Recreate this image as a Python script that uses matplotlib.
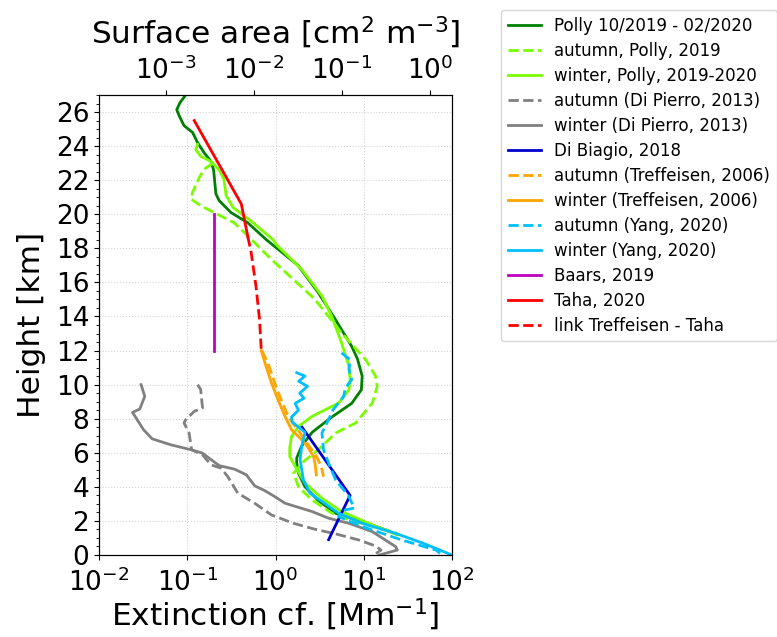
import numpy as np
import matplotlib
matplotlib.use('Agg')
import matplotlib.pyplot as plt
from matplotlib.ticker import MultipleLocator, NullLocator

# Polly 10/2019 - 02/2020 (all)
polly_h = [27.0, 26.56, 26.14, 25.78, 25.2, 24.8, 24.2, 23.6, 23.1, 22.6, 21.2, 20.8, 20.1,
           19.5, 18.5, 17.0, 15.4, 13.8, 12.25, 11.5, 10.5, 9.7, 8.9, 8.1, 7.2, 6.4, 5.7,
           5.4, 4.8, 4.0, 3.2, 2.45, 1.96, 1.4]
polly_x = [0.096, 0.083, 0.076, 0.081, 0.092, 0.115, 0.131, 0.156, 0.186, 0.199, 0.211, 0.23, 0.313,
           0.485, 0.79, 1.8, 3.05, 4.8, 7.3, 8.5, 9.6, 9.4, 7.3, 4.35, 2.6, 1.98, 1.74,
           1.74, 1.82, 2.16, 3.05, 4.8, 9.6, 19.5]

# autumn, Polly, 2019
polly_aut_h = [23.0, 22.65, 22.16, 21.3, 20.9, 20.5, 20.0, 19.5, 18.9, 17.35, 16.08, 15.0, 13.04,
               11.47, 10.5, 9.9, 8.92, 7.75, 7.16, 6.18, 5.5, 4.8, 4.0, 3.24, 2.45, 2.06, 1.27]
polly_aut_x = [0.195, 0.156, 0.137, 0.115, 0.11, 0.142, 0.22, 0.34, 0.45, 0.9, 1.67, 2.8, 5.6,
               10.5, 13.6, 14.2, 12.5, 8.1, 4.8, 3.05, 2.1, 1.6, 1.82, 2.58, 4.36, 6.8, 24.0]

# winter, Polly, 2019-2020
polly_win_h = [24.1, 23.8, 23.4, 23.1, 22.6, 22.06, 21.1, 20.4, 19.6, 18.5, 18.2, 16.76, 15.2,
               14.0, 12.45, 11.08, 10.3, 9.7, 8.92, 8.14, 7.55, 6.96, 6.3, 5.78, 5.2, 4.22,
               3.33, 2.55, 1.86, 1.18]
polly_win_x = [0.131, 0.125, 0.142, 0.186, 0.23, 0.26, 0.276, 0.33, 0.53, 0.94, 1.03, 1.98, 3.36,
               4.35, 5.6, 6.8, 7.0, 6.8, 5.2, 2.6, 1.82, 1.52, 1.45, 1.45, 1.67, 2.16,
               3.36, 5.6, 11.4, 24.0]

# Di Pierro, 2013
dip_aut_h = [10.0, 9.71, 8.63, 8.43, 7.94, 7.75, 7.16, 6.18, 5.88, 5.29, 5.10, 4.61, 3.63,
             3.04, 2.35, 1.86, 1.51, 1.24, 0.88, 0.53, 0.29, 0.0]
dip_aut_x = [0.131, 0.142, 0.149, 0.12, 0.096, 0.092, 0.105, 0.112, 0.149, 0.186, 0.241, 0.287, 0.374,
             0.58, 0.90, 1.6, 2.8, 4.8, 8.8, 13.6, 15.7, 13.0]
dip_win_h = [10.0, 9.31, 8.57, 8.37, 7.35, 6.82, 6.47, 6.18, 5.98, 5.75, 5.24, 5.04, 4.71,
             4.06, 3.78, 3.43, 3.04, 2.55, 2.16, 1.86, 1.37, 0.49, 0.29, 0.0]
dip_win_x = [0.030, 0.033, 0.029, 0.024, 0.032, 0.040, 0.065, 0.110, 0.149, 0.170, 0.231, 0.343, 0.467,
             0.581, 0.755, 0.98, 1.28, 2.6, 4.0, 6.8, 12.5, 23.0, 24.0, 15.0]

# Di Biagio, 2018
dib_h = [7.5, 3.5, 0.9]
dib_x = [2.0, 7.0, 4.0]

# Treffeisen, 2006
tref_aut_h = [12.0, 11.27, 10.1, 9.3, 8.14, 7.55, 7.0, 6.4, 5.8, 5.2, 4.6]
tref_aut_x = [0.70, 0.82, 0.98, 1.12, 1.39, 1.67, 2.0, 2.4, 2.9, 3.3, 3.5]
tref_win_h = [12.0, 11.27, 10.1, 9.1, 8.14, 7.35, 6.76, 6.37, 5.78, 5.39, 4.7]
tref_win_x = [0.69, 0.76, 0.9, 1.07, 1.28, 1.52, 1.98, 2.3, 2.7, 2.8, 2.9]

# Yang, 2020
yang_aut_h = [11.86, 11.47, 10.88, 10.3, 9.8, 9.3, 8.53, 7.84, 7.16, 6.18, 5.39, 4.41, 3.43,
              2.75, 2.65, 2.25, 1.67, 0.88, 0.29, 0.1]
yang_aut_x = [5.6, 7.0, 6.8, 7.3, 6.2, 5.9, 4.5, 3.9, 3.36, 3.5, 4.0, 4.8, 6.8,
              7.8, 6.2, 5.2, 9.6, 27.0, 66.0, 73.0]
yang_win_h = [10.7, 10.5, 10.2, 9.9, 9.5, 9.2, 8.9, 8.5, 8.1, 7.8, 7.5, 7.2, 6.9, 6.37, 5.6,
              4.41, 3.63, 3.14, 2.45, 1.86, 1.27, 0.69, 0.0]
yang_win_x = [1.74, 2.16, 1.83, 2.3, 1.88, 2.1, 1.67, 1.82, 1.52, 1.55, 1.83, 2.16, 2.1, 1.98, 1.9,
              2.07, 2.46, 3.36, 5.2, 9.6, 23.0, 47.0, 100.0]

# Baars, 2019
baars_h = [12.0, 20.0]
baars_x = [0.2, 0.2]

# Taha, 2020 and link
taha_h = [25.5, 20.6, 18.7]
taha_x = [0.12, 0.41, 0.485]
link_h = [18.7, 17.75, 15.8, 13.8, 12.0]
link_x = [0.485, 0.53, 0.6, 0.66, 0.69]

lw = 2

fig = plt.figure(figsize=(7.77, 6.37), dpi=100)
ax = fig.add_axes([99/777, 82/637, 353/777, 460/637])

ax.plot(polly_x, polly_h, color='green', lw=lw, label='Polly 10/2019 - 02/2020')
ax.plot(polly_aut_x, polly_aut_h, color='lawngreen', ls='--', lw=lw, label='autumn, Polly, 2019')
ax.plot(polly_win_x, polly_win_h, color='lawngreen', lw=lw, label='winter, Polly, 2019-2020')
ax.plot(dip_aut_x, dip_aut_h, color='gray', ls='--', lw=lw, label='autumn (Di Pierro, 2013)')
ax.plot(dip_win_x, dip_win_h, color='gray', lw=lw, label='winter (Di Pierro, 2013)')
ax.plot(dib_x, dib_h, color='mediumblue', lw=lw, label='Di Biagio, 2018')
ax.plot(tref_aut_x, tref_aut_h, color='orange', ls='--', lw=lw, label='autumn (Treffeisen, 2006)')
ax.plot(tref_win_x, tref_win_h, color='orange', lw=lw, label='winter (Treffeisen, 2006)')
ax.plot(yang_aut_x, yang_aut_h, color='deepskyblue', ls='--', lw=lw, label='autumn (Yang, 2020)')
ax.plot(yang_win_x, yang_win_h, color='deepskyblue', lw=lw, label='winter (Yang, 2020)')
ax.plot(baars_x, baars_h, color='m', lw=lw, label='Baars, 2019')
ax.plot(taha_x, taha_h, color='red', lw=lw, label='Taha, 2020')
ax.plot(link_x, link_h, color='red', ls='--', lw=lw, label='link Treffeisen - Taha')

ax.set_xscale('log')
ax.set_xlim(1e-2, 1e2)
ax.set_ylim(0, 27)
ax.xaxis.set_minor_locator(NullLocator())
ax.yaxis.set_major_locator(MultipleLocator(2))
ax.yaxis.set_minor_locator(MultipleLocator(0.5))
ax.tick_params(labelsize=19)
ax.tick_params(axis='x', pad=6)
ax.grid(True, which='major', ls=':', color='lightgray', lw=0.8)
ax.set_xlabel('Extinction cf. [Mm$^{-1}$]', fontsize=22.5, labelpad=0)
ax.set_ylabel('Height [km]', fontsize=22.5, labelpad=7)

ax2 = ax.twiny()
ax2.set_xscale('log')
ax2.set_xlim(1.76e-4, 1.76)
ax2.xaxis.set_minor_locator(NullLocator())
ax2.tick_params(labelsize=19)
ax2.set_xlabel('Surface area [cm$^2$ m$^{-3}$]', fontsize=22.5, labelpad=9)

ax.legend(loc='upper left', bbox_to_anchor=(501/777, 1 - 10/637), bbox_transform=fig.transFigure,
          fontsize=12, labelspacing=0.42, borderaxespad=0)

fig.savefig('out.png', dpi=100)
